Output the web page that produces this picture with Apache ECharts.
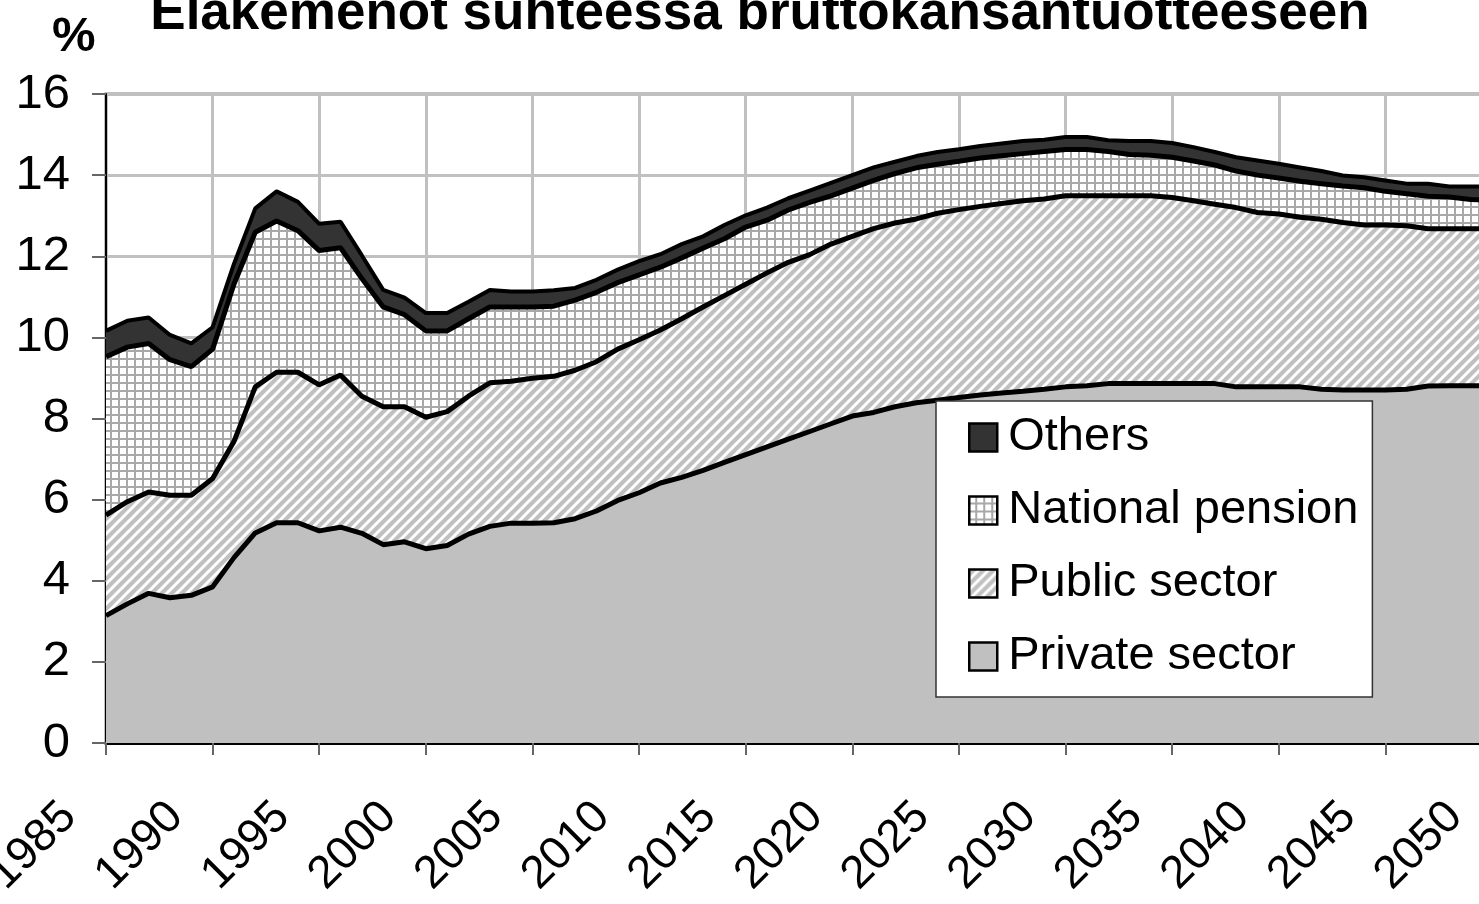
<!DOCTYPE html>
<html>
<head>
<meta charset="utf-8">
<title>Eläkemenot</title>
<script src="https://cdn.jsdelivr.net/npm/echarts/dist/echarts.min.js"></script>
<style>
  html, body { margin: 0; padding: 0; background: #fff; overflow: hidden; }
  #chart { width: 1520px; height: 904px; }
</style>
</head>
<body>
<div id="chart"></div>
<script>
  // years on the category axis
  var years = []
  for (var y = 1985; y <= 2050; y++) years.push(String(y))

  // shares of GDP, %, per sector (stacked)
  var privateSector = [
    3.14, 3.43, 3.69, 3.58, 3.64, 3.85, 4.57, 5.18, 5.43, 5.43,
    5.23, 5.32, 5.17, 4.89, 4.96, 4.79, 4.87, 5.15, 5.34, 5.42,
    5.42, 5.43, 5.53, 5.72, 5.98, 6.17, 6.41, 6.55, 6.72, 6.92,
    7.11, 7.30, 7.49, 7.68, 7.87, 8.06, 8.15, 8.29, 8.39, 8.45,
    8.52, 8.58, 8.63, 8.67, 8.72, 8.78, 8.81, 8.86, 8.86, 8.86,
    8.86, 8.86, 8.86, 8.78, 8.78, 8.78, 8.78, 8.72, 8.70, 8.70,
    8.70, 8.72, 8.80, 8.81, 8.81, 8.81
  ]
  var publicSector = [
    2.48, 2.52, 2.50, 2.53, 2.47, 2.67, 2.86, 3.60, 3.71, 3.71,
    3.60, 3.75, 3.38, 3.40, 3.33, 3.24, 3.30, 3.40, 3.54, 3.50,
    3.57, 3.61, 3.66, 3.68, 3.73, 3.77, 3.77, 3.91, 4.03, 4.11,
    4.20, 4.29, 4.36, 4.36, 4.43, 4.43, 4.53, 4.53, 4.53, 4.61,
    4.63, 4.65, 4.67, 4.70, 4.69, 4.71, 4.68, 4.63, 4.63, 4.63,
    4.59, 4.51, 4.42, 4.42, 4.30, 4.26, 4.18, 4.19, 4.13, 4.07,
    4.07, 4.03, 3.88, 3.87, 3.87, 3.87
  ]
  var nationalPension = [
    3.90, 3.81, 3.66, 3.34, 3.17, 3.19, 3.88, 3.81, 3.73, 3.49,
    3.31, 3.14, 2.90, 2.46, 2.27, 2.13, 1.99, 1.91, 1.87, 1.83,
    1.76, 1.73, 1.73, 1.71, 1.64, 1.60, 1.55, 1.50, 1.45, 1.40,
    1.41, 1.30, 1.29, 1.29, 1.19, 1.19, 1.19, 1.22, 1.26, 1.21,
    1.19, 1.19, 1.18, 1.16, 1.17, 1.14, 1.14, 1.09, 1.02, 1.00,
    0.99, 0.98, 0.97, 0.90, 0.92, 0.89, 0.89, 0.88, 0.90, 0.92,
    0.83, 0.79, 0.80, 0.78, 0.72, 0.70
  ]
  var others = [
    0.64, 0.65, 0.64, 0.61, 0.57, 0.54, 0.50, 0.59, 0.73, 0.71,
    0.66, 0.64, 0.57, 0.42, 0.42, 0.44, 0.44, 0.42, 0.42, 0.38,
    0.38, 0.39, 0.30, 0.31, 0.32, 0.34, 0.32, 0.34, 0.29, 0.34,
    0.29, 0.31, 0.29, 0.29, 0.32, 0.32, 0.32, 0.29, 0.29, 0.30,
    0.30, 0.30, 0.30, 0.31, 0.29, 0.31, 0.31, 0.28, 0.33, 0.35,
    0.35, 0.34, 0.32, 0.34, 0.36, 0.35, 0.34, 0.31, 0.26, 0.26,
    0.27, 0.25, 0.31, 0.26, 0.32, 0.34
  ]

  var yTicks = [0, 2, 4, 6, 8, 10, 12, 14, 16]

  var fontFam = '"Liberation Sans", Arial, sans-serif'

  // diagonal stripes for public sector
  function hatch(){
    var s = 10
    var c = document.createElement('canvas')
    c.width = s
    c.height = s
    var g = c.getContext('2d')
    g.fillStyle = '#c0c0c0'
    g.fillRect(0, 0, s, s)
    g.strokeStyle = '#ffffff'
    g.lineWidth = 3
    g.beginPath()
    g.moveTo(-2, 2); g.lineTo(2, -2)
    g.moveTo(-2, s + 2); g.lineTo(s + 2, -2)
    g.moveTo(s - 2, s + 2); g.lineTo(s + 2, s - 2)
    g.stroke()
    return c
  }
  // small grid for national pension
  function grid(){
    var c = document.createElement('canvas')
    c.width = 8
    c.height = 8
    var g = c.getContext('2d')
    g.fillStyle = '#a8a8a8'
    g.fillRect(0, 0, 8, 8)
    g.fillStyle = '#ffffff'
    g.fillRect(0, 0, 6, 6)
    return c
  }

  var hatchFill = { image: hatch(), repeat: 'repeat' }
  var gridFill = { image: grid(), repeat: 'repeat' }

  function areaSeries(name, data, fill, lw){
    return {
      name: name,
      type: 'line',
      stack: 'total',
      data: data,
      symbol: 'none',
      itemStyle: { color: fill, borderColor: '#000', borderWidth: 2 },
      lineStyle: { color: '#000', width: lw },
      areaStyle: { color: fill, opacity: 1 },
      emphasis: { disabled: true }
    }
  }

  var myChart = echarts.init(document.getElementById('chart'))

  var option = {
    animation: false,
    textStyle: { fontFamily: fontFam },
    title: [
      {
        text: 'Eläkemenot suhteessa bruttokansantuotteeseen',
        left: 'center',
        top: -12,
        padding: 0,
        textStyle: { fontSize: 53, fontWeight: 'bold', color: '#000', fontFamily: fontFam }
      },
      {
        text: '%',
        left: 52,
        top: 13,
        padding: 0,
        textStyle: { fontSize: 49, fontWeight: 'bold', color: '#000', fontFamily: fontFam }
      }
    ],
    legend: {
      orient: 'vertical',
      left: 936,
      top: 401,
      padding: [13, 14, 17, 32],
      itemWidth: 28,
      itemHeight: 28,
      itemGap: 26,
      backgroundColor: '#ffffff',
      borderColor: '#333',
      borderWidth: 1.5,
      icon: 'rect',
      textStyle: { fontSize: 47, color: '#000', fontFamily: fontFam, padding: [0, 0, 0, 6] },
      data: [
        { name: 'Others', itemStyle: { color: '#333333', borderColor: '#000', borderWidth: 2.5 } },
        { name: 'National pension', itemStyle: { color: gridFill, borderColor: '#000', borderWidth: 2.5 } },
        { name: 'Public sector', itemStyle: { color: hatchFill, borderColor: '#000', borderWidth: 2.5 } },
        { name: 'Private sector', itemStyle: { color: '#c0c0c0', borderColor: '#000', borderWidth: 2.5 } }
      ]
    },
    grid: {
      show: true,
      left: 106,
      top: 94,
      right: 28,
      bottom: 161,
      containLabel: false,
      outerBoundsMode: 'none',
      borderColor: '#808080',
      borderWidth: 3
    },
    xAxis: {
      type: 'category',
      boundaryGap: false,
      data: years,
      axisLine: { show: true, lineStyle: { color: '#000', width: 3 } },
      axisTick: { show: true, interval: 4, length: 12, lineStyle: { color: '#666', width: 2 } },
      axisLabel: {
        interval: 4,
        rotate: 45,
        margin: 30,
        padding: [0, 52, 0, 0],
        fontSize: 46,
        color: '#000',
        fontFamily: fontFam
      },
      splitLine: { show: true, interval: 4, lineStyle: { color: '#c0c0c0', width: 3 } }
    },
    yAxis: {
      type: 'value',
      min: yTicks[0],
      max: yTicks[yTicks.length - 1],
      interval: 2,
      axisLine: { show: true, lineStyle: { color: '#000', width: 2 } },
      axisTick: { show: true, length: 14, lineStyle: { color: '#666', width: 2 } },
      axisLabel: { margin: 36, fontSize: 49, color: '#000', fontFamily: fontFam },
      splitLine: { show: true, lineStyle: { color: '#c0c0c0', width: 3 } }
    },
    series: [
      areaSeries('Private sector', privateSector, '#c0c0c0', 5),
      areaSeries('Public sector', publicSector, hatchFill, 5),
      areaSeries('National pension', nationalPension, gridFill, 5),
      areaSeries('Others', others, '#333333', 4)
    ]
  }

  myChart.setOption(option)
</script>
</body>
</html>
